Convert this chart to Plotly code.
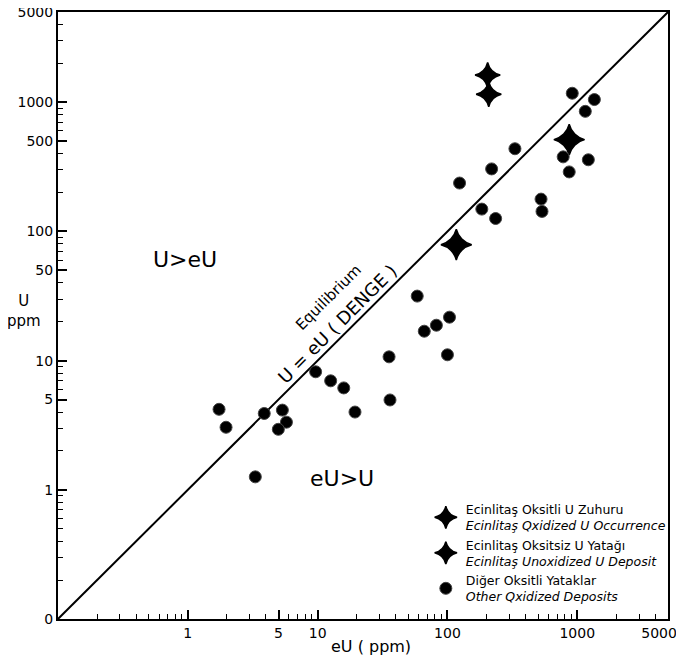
import plotly.graph_objects as go

# Data
other_eU = [1.74, 1.97, 3.88, 5.35, 5.75, 4.98, 3.31, 9.65, 12.6, 15.9, 19.4, 35.5, 36.1,
            58.5, 66.3, 82.2, 103.7, 100, 124, 219, 184, 235, 331, 526, 535, 779, 867,
            1217, 915, 1355, 1153]
other_U = [4.2, 3.05, 3.9, 4.14, 3.34, 2.94, 1.26, 8.2, 6.98, 6.15, 4.0, 10.7, 4.96,
           31.6, 16.9, 18.8, 21.7, 11.1, 237, 305, 149, 126, 437, 178, 143, 378, 289,
           359, 1175, 1050, 851]
occ_eU = [204, 208]
occ_U = [1624, 1155]
dep_eU = [867, 117]
dep_U = [514, 79]
eq_line = [0.1, 5000]

x_tickvals = [1, 5, 10, 100, 1000, 5000]
x_ticktext = ["1", "5", "10", "100", "1000", "5000&nbsp;&nbsp;&nbsp;&nbsp;"]
y_tickvals = [0.1, 1, 5, 10, 50, 100, 500, 1000, 5000]
y_ticktext = ["0", "1", "5", "10", "50", "100", "500", "1000", "5000"]
minor_vals = [m * 10 ** e for e in range(-1, 4) for m in range(2, 10)]

FONT = "DejaVu Sans"
# the page adds a ~7px body offset; compensate so the plot box lands at 57..667 x 11..618
L, R, T, B = 50, 24, 4, 51

fig = go.Figure()
fig.add_trace(go.Scatter(x=eq_line, y=eq_line, mode="lines",
                         line=dict(color="black", width=2), showlegend=False,
                         hoverinfo="skip"))
fig.add_trace(go.Scatter(x=occ_eU, y=occ_U, mode="markers",
                         name="Ecinlitaş Oksitli U Zuhuru<br><i>Ecinlitaş Qxidized U Occurrence</i>",
                         marker=dict(symbol="star-diamond", size=18, color="black",
                                     line=dict(color="black", width=1.5))))
fig.add_trace(go.Scatter(x=dep_eU, y=dep_U, mode="markers",
                         name="Ecinlitaş Oksitsiz U Yatağı<br><i>Ecinlitaş Unoxidized U Deposit</i>",
                         marker=dict(symbol="star-diamond", size=22, color="black",
                                     line=dict(color="black", width=1.5))))
fig.add_trace(go.Scatter(x=other_eU, y=other_U, mode="markers",
                         name="Diğer Oksitli Yataklar<br><i>Other Qxidized Deposits</i>",
                         marker=dict(symbol="circle", size=12, color="black",
                                     line=dict(color="#444", width=1))))
# small round cores for the star symbols (no legend entries)
fig.add_trace(go.Scatter(x=occ_eU, y=occ_U, mode="markers", showlegend=False,
                         hoverinfo="skip", marker=dict(symbol="circle", size=8, color="black")))
fig.add_trace(go.Scatter(x=dep_eU, y=dep_U, mode="markers", showlegend=False,
                         hoverinfo="skip", marker=dict(symbol="circle", size=8, color="black")))

axis_common = dict(type="log", range=[-1, 3.699], showgrid=False, zeroline=False,
                   showline=True, linecolor="black", linewidth=2, mirror=True,
                   ticks="inside", ticklen=9, tickwidth=1.5, tickcolor="black",
                   ticklabeloverflow="allow",
                   tickfont=dict(family=FONT, size=14, color="black"),
                   minor=dict(tickvals=minor_vals, ticks="inside", ticklen=5,
                              tickwidth=1, tickcolor="black", showgrid=False))

fig.update_xaxes(**axis_common, tickmode="array", tickvals=x_tickvals, ticktext=x_ticktext)
fig.update_yaxes(**axis_common, tickmode="array", tickvals=y_tickvals, ticktext=y_ticktext)

ann = [
    dict(x=0.208, y=0.593, text="U&gt;eU", font=dict(size=22)),
    dict(x=0.466, y=0.231, text="eU&gt;U", font=dict(size=22)),
    dict(x=0.444, y=0.530, text="Equilibrium", textangle=-45, font=dict(size=15)),
    dict(x=0.459, y=0.486, text="U = eU ( DENGE )", textangle=-45, font=dict(size=18)),
    dict(x=-0.055, y=0.507, text="U<br>ppm", font=dict(size=15)),
    dict(x=0.513, y=-0.045, text="eU ( ppm)", font=dict(size=16)),
]
for a in ann:
    a.update(xref="paper", yref="paper", showarrow=False,
             xanchor="center", yanchor="middle")
    a["font"].update(family=FONT, color="black")
    fig.add_annotation(**a)

fig.update_layout(
    width=684, height=662,
    margin=dict(l=L, r=R, t=T, b=B, autoexpand=False),
    paper_bgcolor="white", plot_bgcolor="white",
    font=dict(family=FONT, color="black"),
    legend=dict(x=0.603, y=0.205, xanchor="left", yanchor="top",
                bgcolor="rgba(0,0,0,0)", font=dict(family=FONT, size=12.5, color="black"),
                tracegroupgap=0, itemsizing="trace"),
)

fig.write_html("out.html")
